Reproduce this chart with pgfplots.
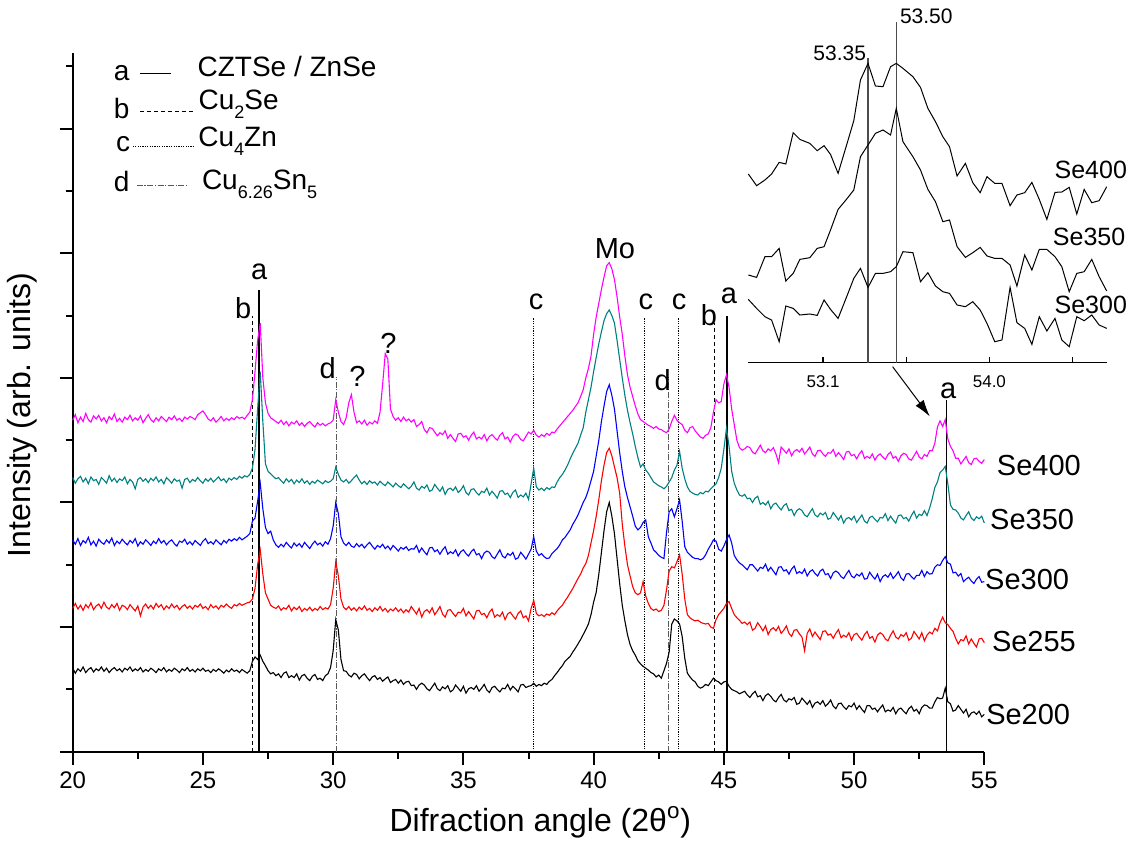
\documentclass[border=0pt]{standalone}
\usepackage{pgfplots}
\pgfplotsset{compat=1.18}
\usepackage{pgfplotstable}
\usepackage{fontspec}
\setmainfont{Liberation Sans}
\usetikzlibrary{arrows.meta}
\definecolor{mag}{RGB}{255,0,255}
\definecolor{tealc}{RGB}{0,128,128}
\newcommand{\sub}[1]{\raisebox{-4.5pt}{\fontsize{9}{10}\selectfont #1}}

\pgfplotstableread{
x s200 s255 s300 s350 s400
20.0 1.34 2.30 3.40 4.40 5.32
20.1 1.26 2.38 3.33 4.31 5.41
20.2 1.33 2.29 3.42 4.38 5.28
20.3 1.29 2.35 3.31 4.42 5.37
20.4 1.36 2.27 3.39 4.33 5.30
20.5 1.27 2.36 3.35 4.39 5.43
20.6 1.32 2.31 3.44 4.30 5.33
20.7 1.35 2.39 3.32 4.41 5.29
20.8 1.28 2.28 3.38 4.35 5.39
20.9 1.33 2.34 3.30 4.37 5.34
21.0 1.30 2.37 3.41 4.29 5.40
21.1 1.36 2.30 3.36 4.40 5.31
21.2 1.29 2.40 3.33 4.36 5.36
21.3 1.34 2.32 3.40 4.31 5.28
21.4 1.27 2.29 3.35 4.43 5.38
21.5 1.32 2.36 3.43 4.34 5.33
21.6 1.35 2.31 3.31 4.39 5.42
21.7 1.30 2.38 3.38 4.32 5.30
21.8 1.33 2.27 3.34 4.38 5.35
21.9 1.28 2.35 3.41 4.35 5.29
22.0 1.34 2.33 3.36 4.41 5.37
22.1 1.31 2.28 3.32 4.30 5.33
22.2 1.36 2.36 3.39 4.37 5.40
22.3 1.29 2.31 3.35 4.33 5.31
22.4 1.33 2.26 3.42 4.22 5.36
22.5 1.30 2.34 3.30 4.37 5.32
22.6 1.35 2.18 3.37 4.40 5.39
22.7 1.28 2.32 3.33 4.34 5.28
22.8 1.32 2.37 3.40 4.38 5.35
22.9 1.29 2.30 3.36 4.32 5.41
23.0 1.34 2.35 3.31 4.39 5.33
23.1 1.31 2.29 3.38 4.35 5.29
23.2 1.27 2.38 3.34 4.41 5.36
23.3 1.33 2.32 3.42 4.33 5.31
23.4 1.30 2.36 3.35 4.37 5.38
23.5 1.35 2.28 3.39 4.30 5.34
23.6 1.28 2.34 3.32 4.40 5.30
23.7 1.32 2.30 3.37 4.36 5.37
23.8 1.29 2.37 3.40 4.31 5.33
23.9 1.34 2.31 3.34 4.38 5.39
24.0 1.31 2.35 3.30 4.34 5.32
24.1 1.27 2.28 3.38 4.36 5.35
24.2 1.33 2.33 3.36 4.23 5.30
24.3 1.30 2.36 3.41 4.37 5.37
24.4 1.35 2.30 3.33 4.39 5.34
24.5 1.29 2.34 3.37 4.32 5.38
24.6 1.32 2.29 3.32 4.37 5.36
24.7 1.28 2.35 3.39 4.34 5.33
24.8 1.33 2.32 3.35 4.40 5.41
24.9 1.30 2.37 3.31 4.35 5.44
25.0 1.34 2.30 3.38 4.31 5.47
25.1 1.29 2.33 3.42 4.38 5.41
25.2 1.31 2.28 3.34 4.34 5.34
25.3 1.27 2.36 3.37 4.39 5.31
25.4 1.32 2.31 3.33 4.33 5.36
25.5 1.29 2.34 3.40 4.37 5.29
25.6 1.33 2.29 3.36 4.41 5.33
25.7 1.30 2.35 3.32 4.35 5.38
25.8 1.26 2.32 3.39 4.38 5.31
25.9 1.31 2.37 3.35 4.32 5.35
26.0 1.28 2.33 3.41 4.39 5.32
26.1 1.33 2.30 3.38 4.36 5.36
26.2 1.29 2.36 3.42 4.40 5.33
26.3 1.31 2.34 3.39 4.37 5.38
26.4 1.27 2.38 3.44 4.42 5.35
26.5 1.32 2.35 3.40 4.39 5.37
26.6 1.29 2.37 3.43 4.43 5.34
26.7 1.26 2.39 3.46 4.41 5.40
26.8 1.30 2.40 3.50 4.45 5.45
26.9 1.45 2.45 3.70 4.55 5.65
27.0 1.52 2.62 3.75 4.85 6.10
27.1 1.48 3.00 4.02 5.50 6.60
27.2 1.55 3.24 4.31 6.10 6.88
27.3 1.45 2.85 3.90 5.30 6.00
27.4 1.38 2.55 3.60 4.62 5.60
27.5 1.30 2.45 3.50 4.50 5.43
27.6 1.25 2.35 3.54 4.46 5.36
27.7 1.27 2.32 3.40 4.42 5.33
27.8 1.22 2.30 3.32 4.38 5.30
27.9 1.25 2.34 3.28 4.40 5.27
28.0 1.19 2.27 3.33 4.35 5.32
28.1 1.26 2.31 3.29 4.31 5.25
28.2 1.28 2.29 3.36 4.38 5.30
28.3 1.19 2.35 3.31 4.33 5.23
28.4 1.22 2.26 3.27 4.37 5.29
28.5 1.19 2.32 3.35 4.30 5.26
28.6 1.25 2.28 3.30 4.36 5.31
28.7 1.15 2.33 3.34 4.32 5.24
28.8 1.22 2.25 3.28 4.38 5.28
28.9 1.24 2.30 3.36 4.31 5.22
29.0 1.18 2.27 3.31 4.35 5.27
29.1 1.14 2.32 3.26 4.29 5.30
29.2 1.21 2.26 3.33 4.34 5.25
29.3 1.24 2.30 3.38 4.31 5.21
29.4 1.16 2.27 3.32 4.36 5.28
29.5 1.18 2.33 3.35 4.33 5.24
29.6 1.14 2.28 3.30 4.30 5.27
29.7 1.22 2.31 3.37 4.35 5.23
29.8 1.25 2.29 3.33 4.32 5.26
29.9 1.35 2.36 3.42 4.34 5.28
30.0 1.62 2.62 3.62 4.38 5.32
30.1 2.12 3.05 4.00 4.57 5.65
30.2 1.95 2.82 3.82 4.45 5.45
30.3 1.48 2.45 3.45 4.36 5.30
30.4 1.30 2.32 3.35 4.33 5.25
30.5 1.29 2.28 3.31 4.37 5.36
30.6 1.23 2.33 3.36 4.31 5.60
30.7 1.20 2.27 3.30 4.35 5.73
30.8 1.26 2.31 3.28 4.40 5.45
30.9 1.24 2.26 3.34 4.44 5.28
31.0 1.17 2.32 3.29 4.36 5.31
31.1 1.22 2.28 3.33 4.30 5.26
31.2 1.25 2.34 3.27 4.34 5.32
31.3 1.19 2.27 3.32 4.29 5.24
31.4 1.14 2.30 3.36 4.35 5.29
31.5 1.20 2.25 3.30 4.31 5.26
31.6 1.22 2.31 3.25 4.33 5.31
31.7 1.16 2.27 3.31 4.28 5.27
31.8 1.19 2.33 3.28 4.34 5.45
31.9 1.13 2.26 3.33 4.30 5.90
32.0 1.17 2.30 3.26 4.27 6.39
32.1 1.20 2.24 3.30 4.33 6.30
32.2 1.11 2.29 3.24 4.29 5.50
32.3 1.14 2.26 3.31 4.25 5.38
32.4 1.16 2.31 3.27 4.31 5.32
32.5 1.10 2.25 3.22 4.27 5.36
32.6 1.15 2.29 3.28 4.24 5.30
32.7 1.08 2.23 3.25 4.30 5.37
32.8 1.12 2.28 3.29 4.26 5.31
32.9 1.13 2.24 3.23 4.22 5.34
33.0 1.06 2.33 3.26 4.26 5.29
33.1 1.07 2.27 3.25 4.33 5.33
33.2 1.00 2.21 3.31 4.23 5.22
33.3 1.07 2.30 3.20 4.20 5.25
33.4 1.10 2.16 3.27 4.26 5.30
33.5 1.07 2.25 3.21 4.23 5.17
33.6 1.01 2.28 3.16 4.28 5.12
33.7 0.98 2.23 3.27 4.18 5.20
33.8 1.04 2.31 3.28 4.20 5.19
33.9 1.10 2.20 3.21 4.29 5.13
34.0 1.01 2.26 3.24 4.23 5.07
34.1 0.98 2.33 3.17 4.18 5.12
34.2 1.04 2.21 3.24 4.25 5.09
34.3 1.01 2.16 3.29 4.13 5.15
34.4 1.06 2.27 3.17 4.21 5.03
34.5 0.96 2.28 3.21 4.23 5.09
34.6 0.99 2.22 3.18 4.19 5.03
34.7 1.07 2.17 3.24 4.25 4.98
34.8 1.02 2.24 3.14 4.16 5.10
34.9 0.97 2.23 3.21 4.20 5.11
35.0 1.05 2.30 3.24 4.27 5.05
35.1 0.94 2.18 3.18 4.16 5.07
35.2 1.01 2.25 3.14 4.12 5.00
35.3 1.03 2.19 3.21 4.21 5.08
35.4 1.00 2.13 3.25 4.22 5.13
35.5 1.06 2.26 3.16 4.16 5.02
35.6 0.97 2.27 3.18 4.12 5.05
35.7 1.02 2.20 3.10 4.18 5.02
35.8 1.08 2.22 3.19 4.16 5.09
35.9 0.99 2.15 3.22 4.23 4.99
36.0 0.95 2.24 3.20 4.12 5.06
36.1 1.03 2.29 3.13 4.18 5.09
36.2 1.05 2.16 3.10 4.13 5.04
36.3 1.00 2.20 3.17 4.07 5.00
36.4 0.96 2.17 3.24 4.18 5.08
36.5 1.02 2.24 3.14 4.19 5.12
36.6 1.01 2.12 3.11 4.13 5.02
36.7 1.08 2.21 3.18 4.15 5.05
36.8 0.99 2.24 3.15 4.08 4.97
36.9 1.05 2.18 3.20 4.16 5.06
37.0 1.01 2.13 3.09 4.20 5.10
37.1 0.96 2.22 3.11 4.08 5.08
37.2 1.07 2.26 3.20 4.12 5.01
37.3 1.08 2.15 3.15 4.09 4.99
37.4 1.03 2.18 3.09 4.15 5.06
37.5 1.05 2.10 3.17 4.05 5.13
37.6 1.06 2.30 3.25 4.30 5.10
37.7 1.10 2.43 3.45 4.55 5.16
37.8 1.05 2.22 3.22 4.25 5.08
37.9 1.08 2.18 3.15 4.20 5.05
38.0 1.06 2.20 3.18 4.23 5.09
38.1 1.10 2.17 3.13 4.19 5.06
38.2 1.08 2.21 3.10 4.24 5.11
38.3 1.13 2.19 3.11 4.21 5.08
38.4 1.16 2.23 3.18 4.25 5.13
38.5 1.22 2.20 3.22 4.24 5.12
38.6 1.27 2.26 3.26 4.33 5.18
38.7 1.33 2.31 3.32 4.40 5.23
38.8 1.38 2.35 3.40 4.45 5.28
38.9 1.45 2.42 3.44 4.52 5.33
39.0 1.49 2.48 3.50 4.60 5.38
39.1 1.53 2.55 3.56 4.70 5.43
39.2 1.60 2.62 3.65 4.79 5.48
39.3 1.66 2.70 3.72 4.87 5.54
39.4 1.73 2.78 3.80 4.95 5.60
39.5 1.80 2.85 3.90 5.08 5.70
39.6 1.88 2.95 4.00 5.20 5.81
39.7 1.96 3.02 4.08 5.45 6.00
39.8 2.05 3.15 4.20 5.65 6.15
39.9 2.20 3.35 4.35 5.85 6.35
40.0 2.40 3.55 4.50 6.10 6.70
40.1 2.56 3.78 4.75 6.33 6.98
40.2 2.85 4.05 5.00 6.55 7.20
40.3 3.20 4.35 5.30 6.74 7.42
40.4 3.55 4.60 5.55 6.92 7.62
40.5 3.85 4.80 5.78 7.03 7.80
40.6 4.00 4.87 5.89 7.09 7.85
40.7 3.78 4.75 5.72 7.00 7.75
40.8 3.50 4.57 5.50 6.88 7.58
40.9 3.10 4.40 5.15 6.60 7.30
41.0 2.70 4.15 4.80 6.30 6.98
41.1 2.35 3.65 4.50 6.00 6.70
41.2 2.10 3.30 4.25 5.72 6.35
41.3 1.88 3.00 4.08 5.48 6.05
41.4 1.72 2.82 3.93 5.28 5.85
41.5 1.62 2.65 3.78 5.10 5.70
41.6 1.55 2.55 3.62 4.90 5.55
41.7 1.46 2.52 3.56 4.72 5.42
41.8 1.41 2.55 3.60 4.57 5.33
41.9 1.37 2.73 3.68 4.62 5.30
42.0 1.34 2.50 3.72 4.52 5.27
42.1 1.31 2.38 3.45 4.47 5.24
42.2 1.27 2.30 3.35 4.40 5.22
42.3 1.25 2.27 3.24 4.33 5.19
42.4 1.20 2.29 3.20 4.30 5.22
42.5 1.23 2.25 3.15 4.27 5.18
42.6 1.18 2.27 3.12 4.25 5.17
42.7 1.30 2.35 3.10 4.22 5.14
42.8 1.42 2.60 3.52 4.26 5.12
42.9 1.60 2.90 3.85 4.33 5.18
43.0 2.05 2.97 3.90 4.40 5.30
43.1 2.13 2.95 3.77 4.52 5.40
43.2 2.10 3.05 3.90 4.60 5.32
43.3 2.05 3.16 4.04 4.82 5.28
43.4 1.85 2.85 3.70 4.55 5.25
43.5 1.50 2.45 3.29 4.38 5.16
43.6 1.26 2.20 3.20 4.25 5.12
43.7 1.20 2.15 3.16 4.18 5.20
43.8 1.15 2.12 3.12 4.15 5.22
43.9 1.12 2.10 3.10 4.13 5.15
44.0 1.05 2.11 3.10 4.12 5.10
44.1 1.02 2.08 3.08 4.16 5.05
44.2 1.04 2.06 3.10 4.14 5.03
44.3 1.08 2.05 3.16 4.18 5.08
44.4 1.06 2.06 3.25 4.17 5.10
44.5 1.12 2.00 3.32 4.22 5.20
44.6 1.18 1.98 3.40 4.26 5.45
44.7 1.14 2.12 3.38 4.30 5.65
44.8 1.12 2.20 3.25 4.40 5.60
44.9 1.08 2.25 3.22 4.55 5.62
45.0 1.12 2.30 3.30 4.85 5.90
45.1 1.13 2.38 3.40 5.19 6.05
45.2 1.05 2.41 3.48 4.90 5.85
45.3 1.00 2.30 3.35 4.50 5.50
45.4 0.98 2.20 3.15 4.31 5.25
45.5 0.96 2.15 3.08 4.20 5.00
45.6 0.93 2.11 3.03 4.12 4.88
45.7 0.95 2.06 3.00 4.10 4.84
45.8 0.97 2.08 2.96 4.13 4.86
45.9 0.91 2.04 2.92 4.06 4.90
46.0 0.87 2.08 3.00 4.07 4.88
46.1 0.93 1.95 3.00 4.00 4.81
46.2 0.97 1.98 2.95 4.07 4.78
46.3 0.88 2.07 2.90 4.10 4.85
46.4 0.90 2.01 2.96 3.97 4.92
46.5 0.82 1.94 2.94 4.00 4.83
46.6 0.90 2.02 3.01 3.96 4.80
46.7 0.93 1.88 2.90 4.02 4.86
46.8 0.89 1.96 2.96 3.90 4.83
46.9 0.83 1.99 2.90 3.97 4.88
47.0 0.80 1.94 2.84 3.99 4.78
47.1 0.87 2.01 2.96 3.93 4.64
47.2 0.92 1.90 2.97 3.88 4.89
47.3 0.83 1.95 2.90 3.95 4.84
47.4 0.80 2.02 2.92 3.98 4.79
47.5 0.85 1.90 2.85 3.87 4.86
47.6 0.83 1.85 2.93 3.89 4.75
47.7 0.87 1.95 2.98 3.79 4.82
47.8 0.76 1.96 2.86 3.87 4.85
47.9 0.78 1.89 2.89 3.90 4.81
48.0 0.86 1.84 2.86 3.87 4.87
48.1 0.81 1.62 2.93 3.80 4.78
48.2 0.76 1.90 2.82 3.77 4.83
48.3 0.82 1.97 2.89 3.84 4.89
48.4 0.71 1.85 2.92 3.90 4.78
48.5 0.78 1.92 2.86 3.80 4.74
48.6 0.80 1.86 2.82 3.77 4.83
48.7 0.76 1.80 2.90 3.83 4.84
48.8 0.82 1.93 2.93 3.80 4.78
48.9 0.73 1.94 2.84 3.84 4.74
49.0 0.77 1.87 2.86 3.73 4.80
49.1 0.83 1.89 2.78 3.75 4.79
49.2 0.73 1.82 2.87 3.84 4.85
49.3 0.69 1.90 2.90 3.78 4.74
49.4 0.77 1.96 2.87 3.72 4.80
49.5 0.78 1.83 2.81 3.79 4.75
49.6 0.72 1.87 2.78 3.67 4.69
49.7 0.68 1.84 2.85 3.74 4.81
49.8 0.74 1.91 2.91 3.76 4.82
49.9 0.72 1.79 2.82 3.72 4.75
50.0 0.78 1.88 2.79 3.78 4.77
50.1 0.68 1.90 2.85 3.68 4.70
50.2 0.74 1.84 2.82 3.74 4.78
50.3 0.68 1.79 2.87 3.80 4.83
50.4 0.63 1.88 2.77 3.70 4.71
50.5 0.74 1.93 2.78 3.67 4.74
50.6 0.74 1.82 2.88 3.76 4.71
50.7 0.68 1.85 2.82 3.78 4.78
50.8 0.70 1.76 2.77 3.73 4.68
50.9 0.64 1.87 2.85 3.69 4.75
51.0 0.70 1.91 2.73 3.76 4.78
51.1 0.75 1.88 2.81 3.75 4.73
51.2 0.64 1.81 2.84 3.82 4.69
51.3 0.67 1.78 2.80 3.71 4.77
51.4 0.65 1.87 2.87 3.78 4.81
51.5 0.71 1.94 2.78 3.72 4.71
51.6 0.61 1.84 2.83 3.67 4.74
51.7 0.68 1.81 2.89 3.79 4.66
51.8 0.70 1.88 2.79 3.80 4.75
51.9 0.65 1.85 2.75 3.74 4.79
52.0 0.61 1.91 2.85 3.76 4.77
52.1 0.69 1.79 2.86 3.70 4.70
52.2 0.73 1.82 2.81 3.79 4.68
52.3 0.65 1.93 2.77 3.86 4.75
52.4 0.68 1.87 2.83 3.75 4.82
52.5 0.61 1.81 2.83 3.81 4.73
52.6 0.71 1.91 2.91 3.79 4.70
52.7 0.75 1.78 2.81 3.87 4.77
52.8 0.74 1.87 2.89 3.79 4.74
52.9 0.70 1.92 2.85 3.91 4.83
53.0 0.70 1.89 2.86 4.06 4.83
53.1 0.80 1.98 2.96 4.24 4.95
53.2 0.87 1.94 3.00 4.33 5.21
53.3 0.85 2.07 2.99 4.48 5.31
53.4 0.86 2.16 3.07 4.52 5.22
53.5 1.02 2.07 3.13 4.58 5.33
53.6 0.80 2.04 3.03 4.30 5.02
53.7 0.77 1.98 3.01 3.96 4.90
53.8 0.65 1.93 2.87 3.89 4.83
53.9 0.67 1.82 2.88 3.88 4.71
54.0 0.74 1.73 2.82 3.83 4.71
54.1 0.68 1.80 2.86 3.75 4.62
54.2 0.62 1.78 2.73 3.72 4.68
54.3 0.68 1.86 2.77 3.79 4.74
54.4 0.56 1.73 2.80 3.85 4.64
54.5 0.62 1.81 2.74 3.75 4.61
54.6 0.64 1.74 2.70 3.71 4.70
54.7 0.60 1.68 2.77 3.77 4.71
54.8 0.65 1.81 2.81 3.74 4.66
54.9 0.56 1.82 2.72 3.78 4.63
55.0 0.60 1.75 2.73 3.67 4.69
}\xrd

\pgfplotstableread{
x s400 s350 s300
52.695 18.87 8.77 6.33
52.740 17.70 8.53 5.43
52.785 18.27 10.60 4.60
52.821 18.87 10.60 4.27
52.862 20.03 11.43 2.10
52.898 19.87 8.17 5.67
52.938 23.00 8.93 5.43
52.974 22.33 10.33 4.77
53.028 21.93 10.50 4.87
53.068 21.20 11.43 4.73
53.105 21.70 11.60 6.27
53.140 20.83 13.27 5.33
53.181 18.93 15.33 4.43
53.226 21.70 16.33 6.53
53.266 24.20 17.27 8.43
53.302 28.27 20.60 9.43
53.343 29.93 21.77 7.53
53.383 27.67 22.93 8.93
53.424 27.60 23.27 8.93
53.465 29.60 22.77 9.10
53.496 29.93 25.43 9.60
53.532 29.43 22.10 11.10
53.586 28.60 20.60 11.00
53.627 27.53 19.27 8.10
53.667 25.43 17.33 9.00
53.708 24.10 16.10 7.67
53.748 22.60 14.10 7.10
53.784 21.60 14.27 6.93
53.825 18.67 11.60 5.77
53.870 19.93 10.53 5.60
53.910 18.00 11.00 6.10
53.950 17.00 11.53 5.27
53.987 18.60 10.67 3.93
54.029 17.93 10.43 2.10
54.068 17.93 10.43 2.27
54.112 15.70 9.77 7.53
54.149 16.77 7.67 4.00
54.191 17.00 10.77 3.43
54.230 18.03 9.27 1.83
54.270 16.33 11.33 4.60
54.311 14.33 11.33 3.17
54.355 17.03 10.60 4.43
54.392 17.07 9.60 2.27
54.432 17.53 7.10 1.60
54.473 14.87 8.93 4.60
54.513 17.33 9.10 4.20
54.554 16.00 10.33 4.77
54.594 16.20 8.60 3.77
54.635 17.60 7.17 3.43
}\insetdata

\begin{document}
\begin{tikzpicture}
\useasboundingbox (-36.35pt,-49.15pt) rectangle (530.15pt,375.85pt);
\begin{axis}[
  at={(0pt,0pt)}, anchor=south west, scale only axis,
  width=455.8pt, height=349.2pt,
  xmin=20, xmax=55, ymin=0, ymax=11.21,
  axis x line=bottom, axis y line=left,
  axis line style={-, line width=1pt},
  xtick={20,25,...,55}, minor xtick={22.5,27.5,...,52.5},
  ytick={0,2,...,10}, minor ytick={1,3,...,11},
  yticklabels={},
  tick align=outside,
  major tick length=6.5pt, minor tick length=3.5pt,
  every tick/.style={black, line width=1pt},
  tick label style={font=\fontsize{12}{14}\selectfont},
  /pgf/number format/assume math mode=true,
  xlabel={Difraction angle (2θ\textsuperscript{o})},
  ylabel={Intensity (arb. units)},
  label style={font=\fontsize{16}{19}\selectfont},
  xlabel style={at={(axis description cs:0.513,-0.1007)}, anchor=center},
  ylabel style={at={(axis description cs:-0.0556,0.482)}, anchor=center},
  clip=false,
]
% reference lines
\addplot[black, line width=0.5pt, dash pattern=on 2pt off 1.5pt] coordinates {(26.89,0) (26.89,6.99)};
\addplot[black, line width=0.8pt] coordinates {(27.16,0) (27.16,7.41)};
\addplot[black!65, line width=0.6pt, dash pattern=on 3pt off 0.8pt on 0.6pt off 0.8pt] coordinates {(30.13,0) (30.13,6.01)};
\addplot[black, line width=0.45pt, dash pattern=on 0.6pt off 0.6pt] coordinates {(37.68,0) (37.68,6.97)};
\addplot[black, line width=0.45pt, dash pattern=on 0.6pt off 0.6pt] coordinates {(41.94,0) (41.94,6.97)};
\addplot[black!65, line width=0.6pt, dash pattern=on 3pt off 0.8pt on 0.6pt off 0.8pt] coordinates {(42.88,0) (42.88,6.01)};
\addplot[black, line width=0.45pt, dash pattern=on 0.6pt off 0.6pt] coordinates {(43.27,0) (43.27,6.97)};
\addplot[black, line width=0.5pt, dash pattern=on 2pt off 1.5pt] coordinates {(44.66,0) (44.66,6.88)};
\addplot[black, line width=0.8pt] coordinates {(45.12,0) (45.12,6.99)};
\addplot[black, line width=0.6pt] coordinates {(53.55,0) (53.55,5.65)};
% curves
\addplot[black, line width=0.55pt] table[x=x, y=s200] {\xrd};
\addplot[red, line width=0.55pt] table[x=x, y=s255] {\xrd};
\addplot[blue, line width=0.55pt] table[x=x, y=s300] {\xrd};
\addplot[tealc, line width=0.55pt] table[x=x, y=s350] {\xrd};
\addplot[mag, line width=0.55pt] table[x=x, y=s400] {\xrd};
% peak labels
\begin{scope}[every node/.style={font=\fontsize{14.5}{17}\selectfont, inner sep=0pt}]
\node at (axis cs:26.55,7.12) {b};
\node at (axis cs:27.16,7.70) {a};
\node at (axis cs:29.79,6.15) {d};
\node at (axis cs:30.93,6.02) {?};
\node at (axis cs:32.12,6.56) {?};
\node at (axis cs:37.79,7.22) {c};
\node at (axis cs:40.82,8.08) {Mo};
\node at (axis cs:42.01,7.22) {c};
\node at (axis cs:43.28,7.22) {c};
\node at (axis cs:42.65,5.97) {d};
\node at (axis cs:44.43,7.01) {b};
\node at (axis cs:45.20,7.31) {a};
\node at (axis cs:53.61,5.79) {a};
\node[anchor=west] at (axis cs:55.47,4.60) {Se400};
\node[anchor=west] at (axis cs:55.21,3.72) {Se350};
\node[anchor=west] at (axis cs:55.02,2.76) {Se300};
\node[anchor=west] at (axis cs:55.28,1.77) {Se255};
\node[anchor=west] at (axis cs:55.06,0.59) {Se200};
\end{scope}
% phase key
\begin{scope}[every node/.style={font=\fontsize{14}{17}\selectfont, inner sep=0pt}]
\node[anchor=base] at (axis cs:21.88,10.78) {a};
\draw[line width=0.6pt] (axis cs:22.58,10.89) -- (axis cs:23.76,10.89);
\node[anchor=base west] at (axis cs:24.78,10.83) {CZTSe / ZnSe};
\node[anchor=base] at (axis cs:21.88,10.17) {b};
\draw[line width=0.5pt, dash pattern=on 2pt off 1.5pt] (axis cs:22.58,10.28) -- (axis cs:24.61,10.28);
\node[anchor=base west] at (axis cs:24.82,10.30) {Cu\sub{2}Se};
\node[anchor=base] at (axis cs:21.94,9.63) {c};
\draw[line width=0.45pt, dash pattern=on 0.6pt off 0.6pt] (axis cs:22.31,9.72) -- (axis cs:24.62,9.72);
\node[anchor=base west] at (axis cs:24.81,9.71) {Cu\sub{4}Zn};
\node[anchor=base] at (axis cs:21.88,8.99) {d};
\draw[black!65, line width=0.6pt, dash pattern=on 3pt off 0.8pt on 0.6pt off 0.8pt] (axis cs:22.46,9.09) -- (axis cs:24.44,9.09);
\node[anchor=base west] at (axis cs:24.95,9.02) {Cu\sub{6.26}Sn\sub{5}};
\end{scope}
\draw[-{Latex[length=8.5pt,width=5pt]}, line width=0.5pt] (axis cs:51.48,6.18) -- (axis cs:52.91,5.38);
\end{axis}

\begin{axis}[
  at={(337.8pt,194.5pt)}, anchor=south west, scale only axis,
  width=179.2pt, height=181.35pt,
  xmin=52.695, xmax=54.635, ymin=0, ymax=36.27,
  axis x line=bottom, axis y line=none,
  axis line style={-, line width=0.7pt},
  xtick={53.1,54.0}, minor xtick={53.55,54.45}, ytick=\empty,
  scaled x ticks=false,
  tick align=inside, major tick length=3pt, minor tick length=3pt,
  every tick/.style={black, line width=0.7pt},
  xticklabel style={font=\fontsize{8.5}{10}\selectfont, yshift=-3pt,
    /pgf/number format/.cd, fixed, fixed zerofill, precision=1, assume math mode=true},
  clip=false,
]
\addplot[black!70, line width=0.7pt] coordinates {(53.343,0) (53.343,30.47)};
\addplot[black!70, line width=0.7pt] coordinates {(53.496,0) (53.496,34.1)};
\addplot[black, line width=0.5pt] table[x=x, y=s400] {\insetdata};
\addplot[black, line width=0.5pt] table[x=x, y=s350] {\insetdata};
\addplot[black, line width=0.5pt] table[x=x, y=s300] {\insetdata};
\node[anchor=east, inner sep=0pt, font=\fontsize{10.5}{12}\selectfont] at (axis cs:53.334,30.94) {53.35};
\node[anchor=west, inner sep=0pt, font=\fontsize{10.5}{12}\selectfont] at (axis cs:53.514,34.6) {53.50};
\node[anchor=west, inner sep=0pt, font=\fontsize{12.5}{15}\selectfont] at (axis cs:54.351,19.27) {Se400};
\node[anchor=west, inner sep=0pt, font=\fontsize{12.5}{15}\selectfont] at (axis cs:54.342,12.54) {Se350};
\node[anchor=west, inner sep=0pt, font=\fontsize{12.5}{15}\selectfont] at (axis cs:54.351,5.77) {Se300};
\end{axis}
\end{tikzpicture}
\end{document}
